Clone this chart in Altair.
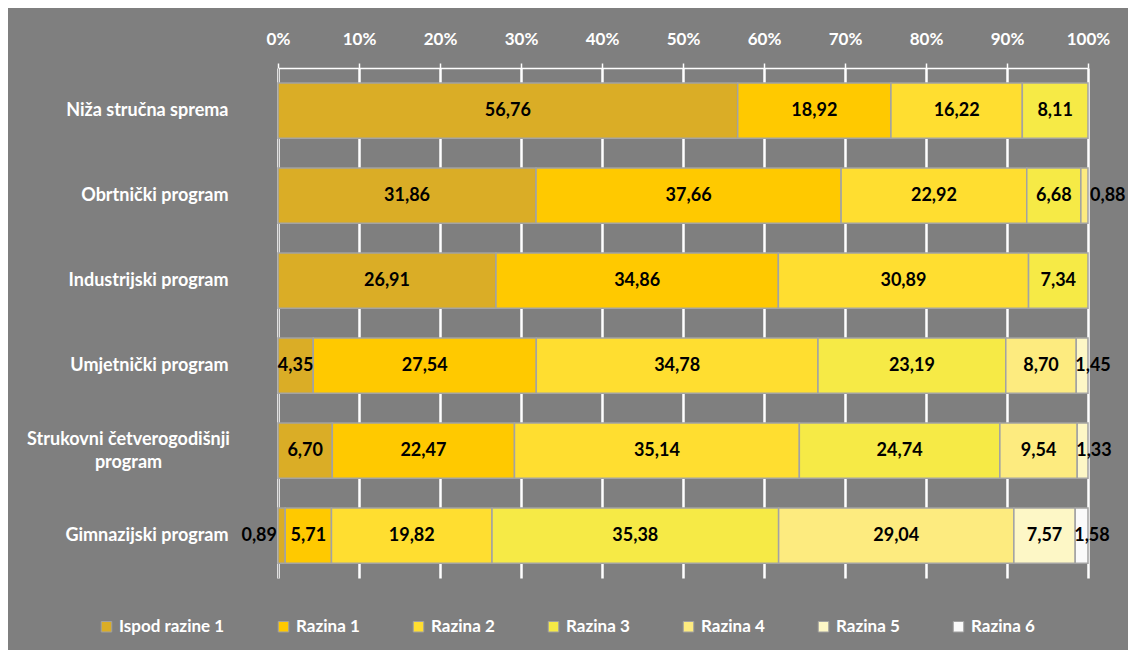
import altair as alt
import pandas as pd

programs = [
    "Niža stručna sprema",
    "Obrtnički program",
    "Industrijski program",
    "Umjetnički program",
    "Strukovni četverogodišnji program",
    "Gimnazijski program",
]
levels = ["Ispod razine 1", "Razina 1", "Razina 2", "Razina 3", "Razina 4", "Razina 5", "Razina 6"]
colors = ["#DAAD26", "#FFC900", "#FFDE30", "#F6EA46", "#FDEB7F", "#FDF7C6", "#FAFAFA"]

niza = [56.76, 18.92, 16.22, 8.11, None, None, None]
obrtnicki = [31.86, 37.66, 22.92, 6.68, 0.88, None, None]
industrijski = [26.91, 34.86, 30.89, 7.34, None, None, None]
umjetnicki = [4.35, 27.54, 34.78, 23.19, 8.70, 1.45, None]
strukovni = [6.70, 22.47, 35.14, 24.74, 9.54, 1.33, None]
gimnazijski = [0.89, 5.71, 19.82, 35.38, 29.04, 7.57, 1.58]

series = [niza, obrtnicki, industrijski, umjetnicki, strukovni, gimnazijski]

rows = []
for p, vals in zip(programs, series):
    for i, (lvl, v) in enumerate(zip(levels, vals)):
        if v is not None:
            rows.append({"program": p, "level": lvl, "idx": i, "value": v})
df = pd.DataFrame(rows)

FONT = "Lato"
LONG = "Strukovni četverogodišnji program"
TEST = f"datum.value == '{LONG}'"

base = alt.Chart(df).transform_window(
    cum="sum(value)", groupby=["program"], sort=[alt.SortField("idx")],
    frame=[None, 0]
).transform_joinaggregate(
    total="sum(value)", groupby=["program"]
).transform_calculate(
    start="(datum.cum - datum.value) / datum.total",
    end="datum.cum / datum.total",
    mid="(datum.cum - datum.value / 2) / datum.total",
    label="replace(format(datum.value, '.2f'), '.', ',')",
)

yenc = alt.Y(
    "program:N", sort=programs, title=None,
    scale=alt.Scale(paddingInner=0.35, paddingOuter=0.175),
    axis=alt.Axis(
        ticks=False,
        domainColor="#9E9E9E", domainWidth=1,
        labelColor="white", labelFont=FONT, labelFontSize=18, labelFontWeight="bold",
        labelLineHeight=23,
        labelExpr=f"{TEST} ? ['Strukovni četverogodišnji', 'program'] : datum.value",
        labelAlign={"condition": {"test": TEST, "value": "center"}, "value": "right"},
        labelPadding={"condition": {"test": TEST, "value": 150}, "value": 50},
        labelOffset={"condition": {"test": TEST, "value": -11}, "value": 0},
        labelLimit=400,
    ),
)

xscale = alt.Scale(domain=[0, 1], nice=False, zero=True)

bars = base.mark_bar(stroke="#A3A3A3", strokeWidth=1.5).encode(
    x=alt.X(
        "start:Q", scale=xscale, title=None,
        axis=alt.Axis(
            orient="top", format=".0%", values=[i / 10 for i in range(11)],
            labelColor="white", labelFont=FONT, labelFontSize=17, labelFontWeight="bold",
            labelFlush=False, labelPadding=15, tickColor="white", tickSize=5, tickWidth=1.5,
            domainColor="white", domainWidth=1.5,
            grid=True, gridColor="white", gridWidth=2.5,
        ),
    ),
    x2="end:Q",
    y=yenc,
    color=alt.Color(
        "level:N", scale=alt.Scale(domain=levels, range=colors), title=None,
        legend=alt.Legend(
            orient="none", direction="horizontal", columns=7, legendX=-180, legendY=550,
            symbolType="square", symbolSize=110, symbolStrokeColor="#A0A0A0", symbolStrokeWidth=1,
            labelColor="white", labelFont=FONT, labelFontSize=17, labelFontWeight="bold",
            labelOffset=4, columnPadding=50,
        ),
    ),
    order=alt.Order("idx:Q"),
)

def txt(filter_expr, field, align, dx):
    return base.transform_filter(filter_expr).mark_text(
        font=FONT, fontSize=18, fontWeight="bold", color="black",
        align=align, baseline="middle", dx=dx
    ).encode(x=alt.X(f"{field}:Q", scale=xscale), y=alt.Y("program:N", sort=programs), text="label:N")

text_normal = txt("datum.value >= 2", "mid", "center", 0)
text_left = txt("datum.value < 2 && datum.start < 0.001", "start", "right", -1)
text_right_in = txt("datum.value < 2 && datum.value >= 1 && datum.end > 0.999", "start", "left", -1)
text_right_out = txt("datum.value < 1 && datum.end > 0.999", "end", "left", 2)

chart = alt.layer(bars, text_normal, text_left, text_right_in, text_right_out).properties(
    width=810, height=510,
    autosize=alt.AutoSizeParams(type="none"),
    padding={"left": 270, "top": 60, "right": 40, "bottom": 72},
    background="#7F7F7F",
).configure_view(stroke=None)

chart.save("out.html", embed_options={"renderer": "svg", "actions": False})
